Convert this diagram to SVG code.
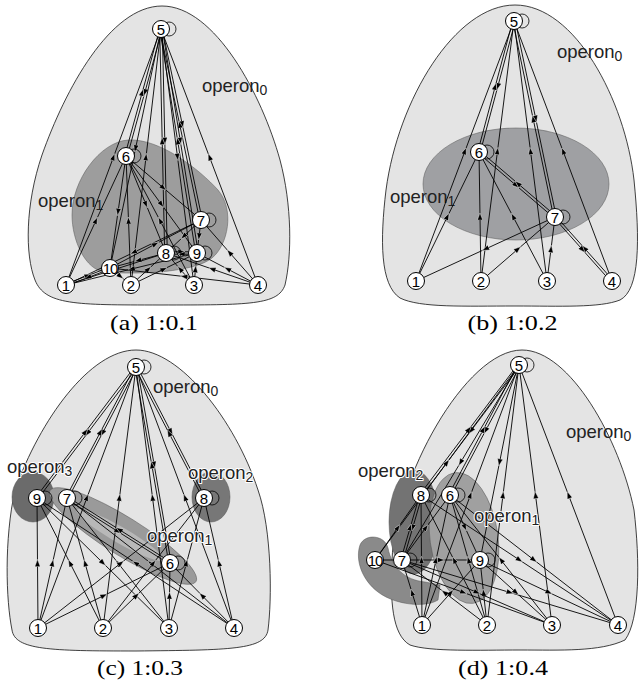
<svg xmlns="http://www.w3.org/2000/svg" width="640" height="686" viewBox="0 0 640 686">
<style>
.bg{fill:#e4e4e4;stroke:#111;stroke-width:0.8}
.op{stroke:#555;stroke-width:0.5}
.e{fill:none;stroke:#000;stroke-width:0.9;marker-mid:url(#ah)}
.p{fill:none;stroke:#000;stroke-width:0.9}
.n circle.c{fill:#fff;stroke:#000;stroke-width:1}
.n circle.l{fill:none;stroke:#000;stroke-width:0.8}
.n text{font-family:"Liberation Sans",Arial,sans-serif;font-size:15px;text-anchor:middle;fill:#000}
.lbl{font-family:"Liberation Sans",Arial,sans-serif;font-size:18.5px;fill:#222}
.halo{stroke:#fff;stroke-width:2;paint-order:stroke;stroke-linejoin:round}
.cap{font-family:"Liberation Serif","Times New Roman",serif;font-size:21px;fill:#000;text-anchor:middle}
</style>
<defs>
<marker id="ah" viewBox="-4 -3 8 6" refX="0" refY="0" markerWidth="7.5" markerHeight="5.5" markerUnits="userSpaceOnUse" orient="auto">
<path d="M4,0 L-4,-3 L-4,3 Z" fill="#000" stroke="#fff" stroke-width="0.5"/>
</marker>
</defs>

<!-- (a) 1:0.1 -->
<g id="panel-a">
<path class="bg" d="M162,6 C215,6 262,95 280,160 C292,205 292,255 285,285 C278,305 250,305 160,305 C75,305 45,305 35,280 C25,255 25,205 42,155 C65,90 110,6 162,6 Z"/>
<path class="op" fill="#9d9d9d" d="M128,140 C160,138 200,170 218,190 C235,210 228,245 212,258 C195,272 140,275 105,272 C85,270 72,240 72,215 C72,180 100,142 128,140 Z"/>
<text class="lbl" x="202" y="92">operon<tspan font-size="14" dy="3">0</tspan></text>
<text class="lbl" x="38" y="207">operon<tspan font-size="14" dy="3">1</tspan></text>
<g id="a-edges">
<path class="e" d="M162.3,29 L144.8,92.5 L127.3,156"/>
<path class="e" d="M124.7,156 L142.2,92.5 L159.7,29"/>
<path class="e" d="M162.3,29 L164.8,141 L167.3,253"/>
<path class="e" d="M164.7,253 L162.2,141 L159.7,29"/>
<path class="e" d="M162.3,29 L182.3,124.5 L202.3,220"/>
<path class="e" d="M199.7,220 L179.7,124.5 L159.7,29"/>
<path class="e" d="M162.3,29 L180.3,141 L198.3,253"/>
<path class="e" d="M195.7,253 L177.7,141 L159.7,29"/>
<path class="e" d="M66,285 L113.5,157 L161,29"/>
<path class="e" d="M131,285 L146,157 L161,29"/>
<path class="e" d="M161,29 L177.5,157 L194,285"/>
<path class="e" d="M258,285 L209.5,157 L161,29"/>
<path class="e" d="M161,29 L135.5,148.5 L110,268"/>
<path class="e" d="M126,156 L163.5,188 L201,220"/>
<path class="e" d="M126,156 L146,204.5 L166,253"/>
<path class="e" d="M126,156 L161.5,204.5 L197,253"/>
<path class="e" d="M66,285 L96,220.5 L126,156"/>
<path class="e" d="M131,285 L128.5,220.5 L126,156"/>
<path class="e" d="M194,285 L160,220.5 L126,156"/>
<path class="e" d="M126,156 L118,212 L110,268"/>
<path class="e" d="M201,220 L133.5,252.5 L66,285"/>
<path class="e" d="M110,268 L155.5,244 L201,220"/>
<path class="e" d="M166,253 L138,260.5 L110,268"/>
<path class="e" d="M197,253 L131.5,269 L66,285"/>
<path class="e" d="M166,251.8 L181.5,251.8 L197,251.8"/>
<path class="e" d="M197,254.2 L181.5,254.2 L166,254.2"/>
<path class="e" d="M201,220 L199,236.5 L197,253"/>
<path class="e" d="M201,220 L183.5,236.5 L166,253"/>
<path class="e" d="M131,285 L164,269 L197,253"/>
<path class="e" d="M194,285 L180,269 L166,253"/>
<path class="e" d="M194,285 L195.5,269 L197,253"/>
<path class="e" d="M258,285 L212,269 L166,253"/>
<path class="e" d="M258,285 L229.5,252.5 L201,220"/>
<path class="e" d="M258,285 L227.5,269 L197,253"/>
<path class="e" d="M66,284 L88,275.5 L110,267"/>
<path class="e" d="M110,269 L88,277.5 L66,286"/>
<path class="e" d="M66,285 L116,269 L166,253"/>
<path class="e" d="M110,268 L120.5,276.5 L131,285"/>
<path class="e" d="M131,285 L148.5,269 L166,253"/>
<path class="e" d="M258,285 L184,276.5 L110,268"/>
</g>
<g id="a-n5" class="n"><circle class="l" cx="169" cy="29" r="7"/><circle class="c" cx="161" cy="29" r="8.5"/><text x="161" y="34.5">5</text></g>
<g id="a-n6" class="n"><circle class="l" cx="134" cy="156" r="7"/><circle class="c" cx="126" cy="156" r="8.5"/><text x="126" y="161.5">6</text></g>
<g id="a-n7" class="n"><circle class="l" cx="209" cy="220" r="7"/><circle class="c" cx="201" cy="220" r="8.5"/><text x="201" y="225.5">7</text></g>
<g id="a-n8" class="n"><circle class="l" cx="174" cy="253" r="7"/><circle class="c" cx="166" cy="253" r="8.5"/><text x="166" y="258.5">8</text></g>
<g id="a-n9" class="n"><circle class="l" cx="205" cy="253" r="7"/><circle class="c" cx="197" cy="253" r="8.5"/><text x="197" y="258.5">9</text></g>
<g id="a-n10" class="n"><circle class="c" cx="110" cy="268" r="8.5"/><text x="110" y="273.5" letter-spacing="-1">10</text></g>
<g id="a-n1" class="n"><circle class="c" cx="66" cy="285" r="8.5"/><text x="66" y="290.5">1</text></g>
<g id="a-n2" class="n"><circle class="c" cx="131" cy="285" r="8.5"/><text x="131" y="290.5">2</text></g>
<g id="a-n3" class="n"><circle class="c" cx="194" cy="285" r="8.5"/><text x="194" y="290.5">3</text></g>
<g id="a-n4" class="n"><circle class="c" cx="258" cy="285" r="8.5"/><text x="258" y="290.5">4</text></g>
<text class="cap" x="154" y="330" textLength="88" lengthAdjust="spacingAndGlyphs">(a) 1:0.1</text>
</g>

<!-- (b) 1:0.2 -->
<g id="panel-b">
<path class="bg" d="M515,5 C575,5 625,100 634,180 C640,240 640,290 620,300 C600,308 560,306 515,306 C465,306 420,308 400,298 C380,285 380,240 386,190 C398,100 455,5 515,5 Z"/>
<ellipse class="op" fill="#9fa0a3" stroke="#444" cx="516" cy="184" rx="93" ry="56"/>
<text class="lbl" x="557" y="58">operon<tspan font-size="14" dy="3">0</tspan></text>
<text class="lbl" x="390" y="203">operon<tspan font-size="14" dy="3">1</tspan></text>
<g id="b-edges">
<path class="e" d="M515.3,21 L497.8,86.5 L480.3,152"/>
<path class="e" d="M477.7,152 L495.2,86.5 L512.7,21"/>
<path class="e" d="M515.3,21 L535.8,119 L556.3,217"/>
<path class="e" d="M553.7,217 L533.2,119 L512.7,21"/>
<path class="e" d="M416,281 L465,151 L514,21"/>
<path class="e" d="M481,281 L497.5,151 L514,21"/>
<path class="e" d="M547,281 L530.5,151 L514,21"/>
<path class="e" d="M612,281 L563,151 L514,21"/>
<path class="e" d="M416,281 L447.5,216.5 L479,152"/>
<path class="e" d="M481,281 L480,216.5 L479,152"/>
<path class="e" d="M547,281 L513,216.5 L479,152"/>
<path class="e" d="M478.2,153 L516.2,185.5 L554.2,218"/>
<path class="e" d="M555.8,216 L517.8,183.5 L479.8,151"/>
<path class="e" d="M555,217 L485.5,249 L416,281"/>
<path class="e" d="M481,281 L518,249 L555,217"/>
<path class="e" d="M547,281 L551,249 L555,217"/>
<path class="e" d="M612.9,280.2 L584.4,248.2 L555.9,216.2"/>
<path class="e" d="M554.1,217.8 L582.6,249.8 L611.1,281.8"/>
</g>
<g id="b-n5" class="n"><circle class="l" cx="522" cy="21" r="7"/><circle class="c" cx="514" cy="21" r="8.5"/><text x="514" y="26.5">5</text></g>
<g id="b-n6" class="n"><circle class="l" cx="487" cy="152" r="7"/><circle class="c" cx="479" cy="152" r="8.5"/><text x="479" y="157.5">6</text></g>
<g id="b-n7" class="n"><circle class="l" cx="563" cy="217" r="7"/><circle class="c" cx="555" cy="217" r="8.5"/><text x="555" y="222.5">7</text></g>
<g id="b-n1" class="n"><circle class="c" cx="416" cy="281" r="8.5"/><text x="416" y="286.5">1</text></g>
<g id="b-n2" class="n"><circle class="c" cx="481" cy="281" r="8.5"/><text x="481" y="286.5">2</text></g>
<g id="b-n3" class="n"><circle class="c" cx="547" cy="281" r="8.5"/><text x="547" y="286.5">3</text></g>
<g id="b-n4" class="n"><circle class="c" cx="612" cy="281" r="8.5"/><text x="612" y="286.5">4</text></g>
<text class="cap" x="512.5" y="330" textLength="90" lengthAdjust="spacingAndGlyphs">(b) 1:0.2</text>
</g>

<!-- (c) 1:0.3 -->
<g id="panel-c">
<path class="bg" d="M136,350 C180,350 235,420 258,490 C272,530 272,600 268,630 C265,650 230,650 136,651 C50,651 15,650 12,630 C6,600 4,540 15,490 C40,420 90,350 136,350 Z"/>
<ellipse class="op" fill="#6b6b6b" cx="33" cy="497" rx="21" ry="25"/>
<ellipse class="op" fill="#777" cx="211" cy="497" rx="19" ry="25"/>
<ellipse class="op" fill="#9a9a9a" cx="123" cy="536" rx="86" ry="19" transform="rotate(32 123 536)"/>
<ellipse fill="#b8b8b8" cx="120" cy="535" rx="50" ry="8" transform="rotate(30 120 535)"/>
<text class="lbl" x="153" y="393">operon<tspan font-size="14" dy="3">0</tspan></text>
<g id="c-edges">
<path class="e" d="M137,367.7 L87.5,433.2 L38,498.7"/>
<path class="e" d="M36,497.3 L85.5,431.8 L135,366.3"/>
<path class="e" d="M137,367.6 L102.5,433.1 L68,498.6"/>
<path class="e" d="M66,497.4 L100.5,431.9 L135,366.4"/>
<path class="e" d="M137,366.4 L171,431.9 L205,497.4"/>
<path class="e" d="M203,498.6 L169,433.1 L135,367.6"/>
<path class="e" d="M137.2,367 L154.2,465 L171.2,563"/>
<path class="e" d="M168.8,563 L151.8,465 L134.8,367"/>
<path class="e" d="M38,628 L87,497.5 L136,367"/>
<path class="e" d="M103,628 L119.5,497.5 L136,367"/>
<path class="e" d="M169,628 L152.5,497.5 L136,367"/>
<path class="e" d="M234,628 L185,497.5 L136,367"/>
<path class="e" d="M38,628 L37.5,563 L37,498"/>
<path class="e" d="M38,628 L52.5,563 L67,498"/>
<path class="e" d="M103,628 L70,563 L37,498"/>
<path class="e" d="M103,628 L85,563 L67,498"/>
<path class="e" d="M37,498 L103,563 L169,628"/>
<path class="e" d="M169,628 L118,563 L67,498"/>
<path class="e" d="M234,628 L135.5,563 L37,498"/>
<path class="e" d="M234,628 L150.5,563 L67,498"/>
<path class="e" d="M234,628 L219,563 L204,498"/>
<path class="e" d="M38,628 L121,563 L204,498"/>
<path class="e" d="M103,628 L153.5,563 L204,498"/>
<path class="e" d="M169,628 L186.5,563 L204,498"/>
<path class="e" d="M38,628 L104,595.5 L170,563"/>
<path class="e" d="M103,628 L136.5,595.5 L170,563"/>
<path class="e" d="M169,628 L169.5,595.5 L170,563"/>
<path class="e" d="M234,628 L202,595.5 L170,563"/>
<path class="e" d="M66.4,499 L117.9,531.5 L169.4,564"/>
<path class="e" d="M170.6,562 L119.1,529.5 L67.6,497"/>
</g>
<text class="lbl halo" x="7" y="473">operon<tspan font-size="14" dy="3">3</tspan></text>
<text class="lbl halo" x="188" y="479">operon<tspan font-size="14" dy="3">2</tspan></text>
<text class="lbl halo" x="147" y="542">operon<tspan font-size="14" dy="3">1</tspan></text>
<g id="c-n5" class="n"><circle class="l" cx="144" cy="367" r="7"/><circle class="c" cx="136" cy="367" r="8.5"/><text x="136" y="372.5">5</text></g>
<g id="c-n9" class="n"><circle class="l" cx="45" cy="498" r="7"/><circle class="c" cx="37" cy="498" r="8.5"/><text x="37" y="503.5">9</text></g>
<g id="c-n7" class="n"><circle class="l" cx="75" cy="498" r="7"/><circle class="c" cx="67" cy="498" r="8.5"/><text x="67" y="503.5">7</text></g>
<g id="c-n8" class="n"><circle class="l" cx="212" cy="498" r="7"/><circle class="c" cx="204" cy="498" r="8.5"/><text x="204" y="503.5">8</text></g>
<g id="c-n6" class="n"><circle class="l" cx="178" cy="563" r="7"/><circle class="c" cx="170" cy="563" r="8.5"/><text x="170" y="568.5">6</text></g>
<g id="c-n1" class="n"><circle class="c" cx="38" cy="628" r="8.5"/><text x="38" y="633.5">1</text></g>
<g id="c-n2" class="n"><circle class="c" cx="103" cy="628" r="8.5"/><text x="103" y="633.5">2</text></g>
<g id="c-n3" class="n"><circle class="c" cx="169" cy="628" r="8.5"/><text x="169" y="633.5">3</text></g>
<g id="c-n4" class="n"><circle class="c" cx="234" cy="628" r="8.5"/><text x="234" y="633.5">4</text></g>
<text class="cap" x="140" y="675" textLength="86" lengthAdjust="spacingAndGlyphs">(c) 1:0.3</text>
</g>

<!-- (d) 1:0.4 -->
<g id="panel-d">
<path class="bg" d="M522,350 C570,350 620,440 634,510 C640,560 640,620 625,640 C600,652 560,650 520,650 C480,650 430,652 410,645 C392,635 390,600 392,560 C395,480 465,350 522,350 Z"/>
<ellipse class="op" fill="#737373" cx="414" cy="522" rx="25" ry="52"/>
<path class="op" fill="#8a8a8a" d="M360,545 C365,533 385,535 388,548 C392,568 405,580 425,582 L440,585 L438,600 C425,608 395,605 378,592 C362,580 355,560 360,545 Z"/>
<ellipse class="op" fill="#a0a0a0" cx="464" cy="538" rx="34" ry="66" transform="rotate(-8 464 538)"/>
<text class="lbl" x="566" y="438">operon<tspan font-size="14" dy="3">0</tspan></text>
<g id="d-edges">
<path class="e" d="M520,365.7 L471,430.7 L422,495.7"/>
<path class="e" d="M420,494.3 L469,429.3 L518,364.3"/>
<path class="e" d="M520.1,365.6 L485.6,430.6 L451.1,495.6"/>
<path class="e" d="M448.9,494.4 L483.4,429.4 L517.9,364.4"/>
<path class="e" d="M375,560 L447,462.5 L519,365"/>
<path class="e" d="M519,365 L460.5,462.5 L402,560"/>
<path class="e" d="M519,365 L499.5,462.5 L480,560"/>
<path class="e" d="M422,625 L470.5,495 L519,365"/>
<path class="e" d="M487,625 L503,495 L519,365"/>
<path class="e" d="M552,625 L535.5,495 L519,365"/>
<path class="e" d="M618,625 L568.5,495 L519,365"/>
<path class="e" d="M422.2,495.3 L412.7,527.8 L403.2,560.3"/>
<path class="e" d="M400.8,559.7 L410.3,527.2 L419.8,494.7"/>
<path class="p" d="M375,560 L402,560"/>
<path class="e" d="M375,560 L398,527.5 L421,495"/>
<path class="e" d="M402,560 L426,527.5 L450,495"/>
<path class="e" d="M450,495 L465,527.5 L480,560"/>
<path class="e" d="M402,560 L441,560 L480,560"/>
<path class="e" d="M422,625 L421.5,560 L421,495"/>
<path class="e" d="M422,625 L436,560 L450,495"/>
<path class="e" d="M487,625 L454,560 L421,495"/>
<path class="e" d="M487,625 L468.5,560 L450,495"/>
<path class="e" d="M552,625 L501,560 L450,495"/>
<path class="e" d="M421,495 L519.5,560 L618,625"/>
<path class="e" d="M450,495 L534,560 L618,625"/>
<path class="e" d="M422,625 L412,592.5 L402,560"/>
<path class="e" d="M422,625 L451,592.5 L480,560"/>
<path class="e" d="M487,625 L444.5,592.5 L402,560"/>
<path class="e" d="M487,625 L483.5,592.5 L480,560"/>
<path class="e" d="M402,560 L477,592.5 L552,625"/>
<path class="e" d="M402,560 L510,592.5 L618,625"/>
<path class="e" d="M480,560 L516,592.5 L552,625"/>
<path class="e" d="M480,560 L549,592.5 L618,625"/>
<path class="e" d="M375,560 L463.5,592.5 L552,625"/>
</g>
<text class="lbl halo" x="358" y="477">operon<tspan font-size="14" dy="3">2</tspan></text>
<text class="lbl halo" x="474" y="522">operon<tspan font-size="14" dy="3">1</tspan></text>
<g id="d-n5" class="n"><circle class="l" cx="527" cy="365" r="7"/><circle class="c" cx="519" cy="365" r="8.5"/><text x="519" y="370.5">5</text></g>
<g id="d-n8" class="n"><circle class="l" cx="429" cy="495" r="7"/><circle class="c" cx="421" cy="495" r="8.5"/><text x="421" y="500.5">8</text></g>
<g id="d-n6" class="n"><circle class="l" cx="458" cy="495" r="7"/><circle class="c" cx="450" cy="495" r="8.5"/><text x="450" y="500.5">6</text></g>
<g id="d-n10" class="n"><circle class="c" cx="375" cy="560" r="8.5"/><text x="375" y="565.5" letter-spacing="-1">10</text></g>
<g id="d-n7" class="n"><circle class="l" cx="410" cy="560" r="7"/><circle class="c" cx="402" cy="560" r="8.5"/><text x="402" y="565.5">7</text></g>
<g id="d-n9" class="n"><circle class="l" cx="488" cy="560" r="7"/><circle class="c" cx="480" cy="560" r="8.5"/><text x="480" y="565.5">9</text></g>
<g id="d-n1" class="n"><circle class="c" cx="422" cy="625" r="8.5"/><text x="422" y="630.5">1</text></g>
<g id="d-n2" class="n"><circle class="c" cx="487" cy="625" r="8.5"/><text x="487" y="630.5">2</text></g>
<g id="d-n3" class="n"><circle class="c" cx="552" cy="625" r="8.5"/><text x="552" y="630.5">3</text></g>
<g id="d-n4" class="n"><circle class="c" cx="618" cy="625" r="8.5"/><text x="618" y="630.5">4</text></g>
<text class="cap" x="503" y="675" textLength="90" lengthAdjust="spacingAndGlyphs">(d) 1:0.4</text>
</g>
</svg>
